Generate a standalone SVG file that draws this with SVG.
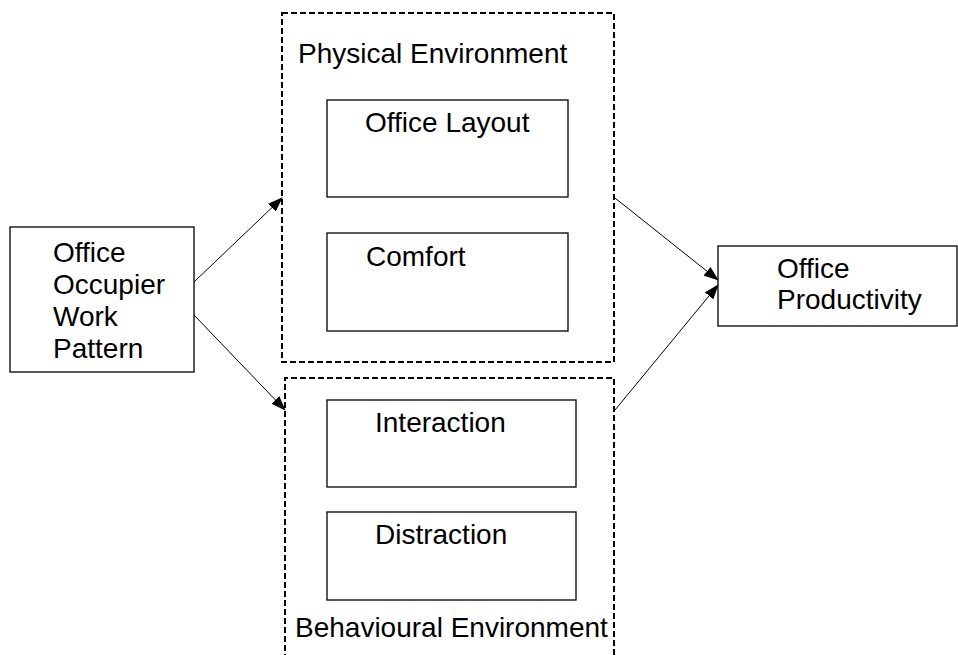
<svg xmlns="http://www.w3.org/2000/svg" width="958" height="655" viewBox="0 0 958 655">
<style>
  .box { fill: #fff; stroke: #000; stroke-width: 1.3; }
  .group { fill: none; stroke: #000; stroke-width: 2; stroke-dasharray: 6 3; }
  .lbl { font-family: "Liberation Sans", Arial, sans-serif; font-size: 28px; fill: #000; }
  .conn { stroke: #000; stroke-width: 1; fill: none; marker-end: url(#arrow); }
</style>
<defs>
  <marker id="arrow" markerWidth="15" markerHeight="11" refX="14" refY="5.5" orient="auto" markerUnits="userSpaceOnUse">
    <path d="M0,0 L15,5.5 L0,11 Z" fill="#000"/>
  </marker>
</defs>
<rect width="958" height="655" fill="#fff"/>

<g id="physical-environment">
  <rect class="group" x="282" y="13" width="332" height="349"/>
  <text class="lbl" x="298" y="63">Physical Environment</text>
</g>
<g id="behavioural-environment">
  <path class="group" d="M285,660 L285,378 L614,378 L614,660"/>
  <text class="lbl" x="295" y="637">Behavioural Environment</text>
</g>

<g id="office-occupier">
  <rect class="box" x="10" y="227" width="184" height="145"/>
  <text class="lbl" x="53" y="262">Office</text>
  <text class="lbl" x="53" y="294">Occupier</text>
  <text class="lbl" x="53" y="326">Work</text>
  <text class="lbl" x="53" y="358">Pattern</text>
</g>
<g id="office-layout">
  <rect class="box" x="327" y="100" width="241" height="97"/>
  <text class="lbl" x="365" y="132">Office Layout</text>
</g>
<g id="comfort">
  <rect class="box" x="327" y="233" width="241" height="98"/>
  <text class="lbl" x="366" y="266">Comfort</text>
</g>
<g id="interaction">
  <rect class="box" x="327" y="400" width="249" height="87"/>
  <text class="lbl" x="375" y="432">Interaction</text>
</g>
<g id="distraction">
  <rect class="box" x="327" y="512" width="249" height="88"/>
  <text class="lbl" x="375" y="544">Distraction</text>
</g>
<g id="office-productivity">
  <rect class="box" x="718" y="246" width="239" height="80"/>
  <text class="lbl" x="777" y="278">Office</text>
  <text class="lbl" x="777" y="309">Productivity</text>
</g>

<g id="connectors">
  <line class="conn" x1="194" y1="282" x2="282" y2="198"/>
  <line class="conn" x1="194" y1="315" x2="285" y2="410"/>
  <line class="conn" x1="615" y1="198" x2="718" y2="280"/>
  <line class="conn" x1="615" y1="410" x2="718" y2="285"/>
</g>
</svg>
